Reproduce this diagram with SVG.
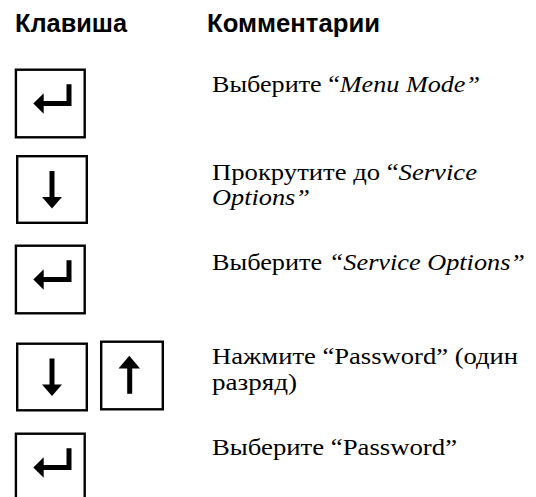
<svg xmlns="http://www.w3.org/2000/svg" xmlns:xlink="http://www.w3.org/1999/xlink" width="536" height="497" viewBox="0 0 536 497">
  <style>
    .head { font-family: "Liberation Sans", Arial, sans-serif; font-weight: bold; font-size: 25px; fill: #000; }
    .txt { font-family: "Liberation Serif", "Times New Roman", serif; font-size: 23px; fill: #000; }
    .it { font-style: italic; }
    .key { fill: #fff; stroke: #000; stroke-width: 2.4; }
    .glyph { fill: none; stroke: #000; stroke-width: 5; stroke-linejoin: miter; stroke-linecap: butt; }
    .tip { fill: #000; stroke: none; }
  </style>
  <defs>
    <!-- Enter key: box 71 x 69, origin at outer top-left corner -->
    <g id="enterKey">
      <rect class="key" x="1.2" y="1.2" width="68.8" height="67.6"/>
      <polyline class="glyph" points="54.3,15.7 54.3,35 28,35"/>
      <polygon class="tip" points="18.6,35 29,24.8 29,45.2"/>
    </g>
    <!-- Down key: box 72 x 69 -->
    <g id="downKey">
      <rect class="key" x="1.2" y="1.2" width="69.6" height="66.6"/>
      <line class="glyph" x1="36" y1="16" x2="36" y2="44"/>
      <polygon class="tip" points="26,42 46,42 36,53.5"/>
    </g>
    <!-- Up key: box 64 x 70 -->
    <g id="upKey">
      <rect class="key" x="1.2" y="1.2" width="61.6" height="67.6"/>
      <line class="glyph" x1="29.7" y1="26" x2="29.7" y2="53.3"/>
      <polygon class="tip" points="18.5,28 40,28 29.3,15.3"/>
    </g>
  </defs>

  <rect width="536" height="497" fill="#fff"/>

  <g id="headers">
    <text class="head" x="15" y="32" textLength="112" lengthAdjust="spacingAndGlyphs">Клавиша</text>
    <text class="head" x="207" y="32" textLength="173" lengthAdjust="spacingAndGlyphs">Комментарии</text>
  </g>

  <g id="step1">
    <use xlink:href="#enterKey" x="14.7" y="68.5"/>
    <text class="txt" x="212" y="92" textLength="268" lengthAdjust="spacingAndGlyphs">Выберите “<tspan class="it">Menu Mode”</tspan></text>
  </g>

  <g id="step2">
    <use xlink:href="#downKey" x="16" y="155"/>
    <text class="txt" x="212" y="179.5" textLength="265" lengthAdjust="spacingAndGlyphs">Прокрутите до “<tspan class="it">Service</tspan></text>
    <text class="txt it" x="212" y="205" textLength="98" lengthAdjust="spacingAndGlyphs">Options”</text>
  </g>

  <g id="step3">
    <use xlink:href="#enterKey" x="14.7" y="244.5"/>
    <text class="txt" x="212" y="270" textLength="313" lengthAdjust="spacingAndGlyphs">Выберите <tspan class="it">“Service Options”</tspan></text>
  </g>

  <g id="step4">
    <use xlink:href="#downKey" x="16" y="342.5"/>
    <use xlink:href="#upKey" x="100" y="340.5"/>
    <text class="txt" x="212" y="363.5" textLength="306" lengthAdjust="spacingAndGlyphs">Нажмите “Password” (один</text>
    <text class="txt" x="212" y="389.5" textLength="85" lengthAdjust="spacingAndGlyphs">разряд)</text>
  </g>

  <g id="step5">
    <use xlink:href="#enterKey" x="14.7" y="432.5"/>
    <text class="txt" x="212" y="455" textLength="245" lengthAdjust="spacingAndGlyphs">Выберите “Password”</text>
  </g>
</svg>
